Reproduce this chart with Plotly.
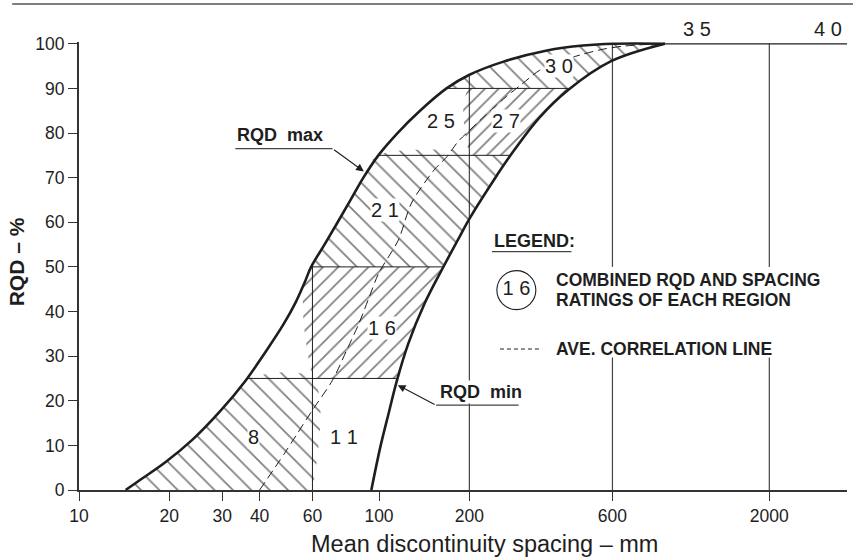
import numpy as np
import plotly.graph_objects as go

# Envelope curves and average correlation line: (mean spacing mm, RQD %)
max_spacing = [14.3, 16.1, 19.4, 24.0, 29.5, 35.9, 41.9, 47.9, 52.7, 56.5, 59.4, 65.8, 72.8,
               80.4, 88.7, 99.5, 115.3, 137.0, 167.9, 199.5, 260, 363, 479, 603, 897]
max_rqd = [0, 2.4, 6.2, 11.4, 17.6, 24.5, 31.0, 37.0, 42.0, 46.5, 50.0, 55.0, 60.0,
           65.0, 70.0, 75.0, 80.0, 85.0, 90.0, 93.0, 96.0, 98.5, 99.6, 100, 100]

min_spacing = [94.3, 101, 107.6, 114.6, 125.2, 141.9, 163, 183, 201, 247, 273, 342, 428, 594, 897]
min_rqd = [0, 9.6, 17.1, 24.4, 32.8, 41.8, 49.7, 56.0, 61.0, 70.5, 74.8, 83.4, 89.7, 96.1, 100]

avg_spacing = [40, 48.3, 53.6, 60, 70, 78, 85.7, 92.5, 99.8, 116, 128.3, 153, 169, 183, 207,
               235, 266, 300, 342, 400, 474, 560, 658, 852]
avg_rqd = [0, 8.1, 12.8, 17.9, 24.6, 31.3, 37.3, 43.0, 48.6, 56.0, 64.3, 71.8, 74.8, 78.0, 81.5,
           85.0, 88.2, 91.0, 94.0, 96.0, 97.6, 98.8, 99.5, 100]

# Rating class boundaries
rqd_breaks = [25, 50, 75, 90]
spacing_breaks = [60, 200, 600, 2000]

# Combined ratings and where they are written
region_ratings = ["8", "11", "16", "21", "25", "27", "30", "35", "40"]
rating_spacing = [38.2, 76.5, 102, 104.4, 161, 266, 398, 1146, 3133]
rating_rqd = [11.9, 11.9, 36.4, 62.8, 82.6, 82.6, 95.0, 103.4, 103.4]

# Axis ticks
x_ticks = [10, 20, 30, 40, 60, 100, 200, 600, 2000]
y_ticks = list(range(0, 101, 10))

Y_TOP = 100.4
INK = "#1e1e1e"
FONT = "Liberation Sans, Arial, Helvetica, sans-serif"


def curve_between(xs, ys, lo, hi):
    """Part of a curve between two RQD levels, ends interpolated in log spacing."""
    xs = np.asarray(xs, float)
    ys = np.asarray(ys, float)
    lx = np.log10(xs)
    inside = (ys > lo) & (ys < hi)
    px = [10 ** np.interp(lo, ys, lx)] + list(xs[inside])
    py = [lo] + list(ys[inside])
    if hi >= 100:
        top = ys >= hi
        px += list(xs[top])
        py += list(ys[top])
    else:
        px.append(10 ** np.interp(hi, ys, lx))
        py.append(hi)
    return px, py


def x_on(xs, ys, level):
    return 10 ** np.interp(level, np.asarray(ys, float), np.log10(xs))


def y_on(xs, ys, spacing):
    return float(np.interp(np.log10(spacing), np.log10(xs), ys))


fig = go.Figure()


def hatch(px, py, shape, size):
    fig.add_trace(go.Scatter(
        x=px, y=py, mode="lines", fill="toself", fillcolor="white",
        line=dict(width=0, color="rgba(0,0,0,0)", shape="spline", smoothing=1.0),
        fillpattern=dict(shape=shape, size=size, solidity=1.7 / size,
                         fgcolor="#000000", bgcolor="white"),
        hoverinfo="skip"))


r25, r50, r75, r90 = rqd_breaks
s60, s200, s600, s2000 = spacing_breaks

# rating 8: max curve to 60 mm, RQD 0-25
mx, my = curve_between(max_spacing, max_rqd, 0, r25)
hatch(mx + [s60, s60], my + [r25, 0], "\\", 13)

# rating 16: 60 mm to min curve, RQD 25-50
nx, ny = curve_between(min_spacing, min_rqd, r25, r50)
hatch([s60, s60] + nx[::-1], [r25, r50] + ny[::-1], "/", 10.7)

# rating 21: envelope, RQD 50-75
mx, my = curve_between(max_spacing, max_rqd, r50, r75)
nx, ny = curve_between(min_spacing, min_rqd, r50, r75)
hatch(mx + nx[::-1], my + ny[::-1], "\\", 12.5)

# rating 27: 200 mm to min curve, RQD 75-90
nx, ny = curve_between(min_spacing, min_rqd, r75, r90)
hatch([s200, s200] + nx[::-1], [r75, r90] + ny[::-1], "/", 9.7)

# rating 30: envelope, RQD 90-100
mx, my = curve_between(max_spacing, max_rqd, r90, 100)
nx, ny = curve_between(min_spacing, min_rqd, r90, 100)
hatch(mx + nx[::-1], my + ny[::-1], "\\", 13)


def seg(xs, ys, color=INK, width=1.0, dash=None):
    fig.add_trace(go.Scatter(x=xs, y=ys, mode="lines",
                             line=dict(color=color, width=width, dash=dash),
                             hoverinfo="skip"))


# RQD class boundaries across the envelope
for lvl in rqd_breaks:
    seg([x_on(max_spacing, max_rqd, lvl), x_on(min_spacing, min_rqd, lvl)], [lvl, lvl])

# spacing class boundaries
seg([s60, s60], [0, y_on(max_spacing, max_rqd, s60)])
seg([s200, s200], [0, y_on(max_spacing, max_rqd, s200)])
for s in (s600, s2000):
    seg([s, s], [0, 29.7], color="#444444", width=1.2)
    seg([s, s], [50, 100], color="#444444", width=1.2)
seg([max_spacing[-1], 4000], [100, 100], width=1.2)

# average correlation line
fig.add_trace(go.Scatter(x=avg_spacing, y=avg_rqd, mode="lines",
                         line=dict(color=INK, width=1.0, dash="9px,5px",
                                   shape="spline", smoothing=0.8),
                         hoverinfo="skip"))

# envelope curves
for xs, ys in ((max_spacing, max_rqd), (min_spacing, min_rqd)):
    fig.add_trace(go.Scatter(x=xs, y=ys, mode="lines",
                             line=dict(color=INK, width=2.6, shape="spline", smoothing=1.0),
                             hoverinfo="skip"))

# leader lines for the curve labels
seg([33.2, 70.0], [76.5, 76.5], color="#444444", width=1.2)
seg([155, 292], [19.0, 19.0], color="#444444", width=1.2)
# legend underline and dashed sample
seg([238, 438], [53.4, 53.4], color="#444444", width=1.2)
seg([253, 342], [31.6, 31.6], width=1.0, dash="4px,3px")

# legend circle with sample rating
fig.add_trace(go.Scatter(
    x=[287], y=[44.8], mode="markers+text", text=["1 6"], textposition="middle center",
    textfont=dict(family=FONT, size=20, color=INK),
    marker=dict(symbol="circle-open", size=39, color=INK, line=dict(width=1.1)),
    hoverinfo="skip", cliponaxis=False))

annotations = []
for txt, sx, ry in zip(region_ratings, rating_spacing, rating_rqd):
    above = ry > 100
    annotations.append(dict(
        x=np.log10(sx), y=ry / Y_TOP if above else ry, xref="x",
        yref="paper" if above else "y", yanchor="middle", text=" ".join(txt),
        showarrow=False, font=dict(family=FONT, size=20, color=INK),
        bgcolor=None if above else "white", borderpad=0))


def label(text, sx, ry, size=18, bold=True, xanchor="left", bg=None):
    annotations.append(dict(
        x=np.log10(sx), y=ry, xref="x", yref="y", xanchor=xanchor, yanchor="middle",
        text=f"<b>{text}</b>" if bold else text, showarrow=False,
        font=dict(family=FONT, size=size, color=INK),
        bgcolor=bg, borderpad=1))


label("RQD&nbsp;&nbsp;max", 33.2, 79.6)
label("RQD&nbsp;&nbsp;min", 157.8, 22.0, bg="white")
label("LEGEND:", 238, 55.9)
label("COMBINED RQD AND SPACING", 383, 47.1, size=17.5)
label("RATINGS OF EACH REGION", 383, 42.6, size=17.5)
label("AVE. CORRELATION LINE", 383, 31.6, size=17.5)

# arrows pointing at the envelope curves
for tip, tail in (((89.0, 71.4), (70.0, 76.5)), ((115.5, 23.5), (155, 19.0))):
    annotations.append(dict(
        x=np.log10(tip[0]), y=tip[1], ax=np.log10(tail[0]), ay=tail[1],
        xref="x", yref="y", axref="x", ayref="y", text="", showarrow=True,
        arrowhead=2, arrowsize=1.4, arrowwidth=1.1, arrowcolor=INK, standoff=0))

# axis titles
annotations.append(dict(
    x=0.5286, y=-0.1205, xref="paper", yref="paper", xanchor="center", yanchor="middle",
    text="Mean discontinuity spacing – mm", showarrow=False,
    font=dict(family=FONT, size=23.5, color=INK)))
annotations.append(dict(
    x=-0.081, y=0.51, xref="paper", yref="paper", xanchor="center", yanchor="middle",
    text="<b>RQD – %</b>", textangle=-90, showarrow=False,
    font=dict(family=FONT, size=21, color=INK)))

fig.update_layout(
    width=853, height=560,
    margin=dict(l=79, r=6, t=42, b=70),
    paper_bgcolor="white", plot_bgcolor="white",
    showlegend=False,
    font=dict(family=FONT, color=INK),
    annotations=annotations,
    shapes=[dict(type="line", xref="paper", yref="paper",
                 x0=-0.087, x1=1.01, y0=1.0848, y1=1.0848,
                 line=dict(color="#555555", width=1.5))],
)
fig.update_xaxes(
    type="log", range=[1, 3.56],
    tickvals=x_ticks, ticktext=[str(v) for v in x_ticks],
    ticks="outside", ticklen=9, tickwidth=1.2, tickcolor="#333333",
    showline=True, linewidth=2, linecolor="#333333",
    showgrid=False, zeroline=False,
    tickfont=dict(family=FONT, size=17.5, color=INK))
fig.update_yaxes(
    range=[0, Y_TOP], tickvals=y_ticks,
    ticks="outside", ticklen=9, tickwidth=1.2, tickcolor="#333333",
    showline=True, linewidth=2, linecolor="#333333",
    showgrid=False, zeroline=False,
    tickfont=dict(family=FONT, size=17.5, color=INK))

fig.write_html("out.html")
